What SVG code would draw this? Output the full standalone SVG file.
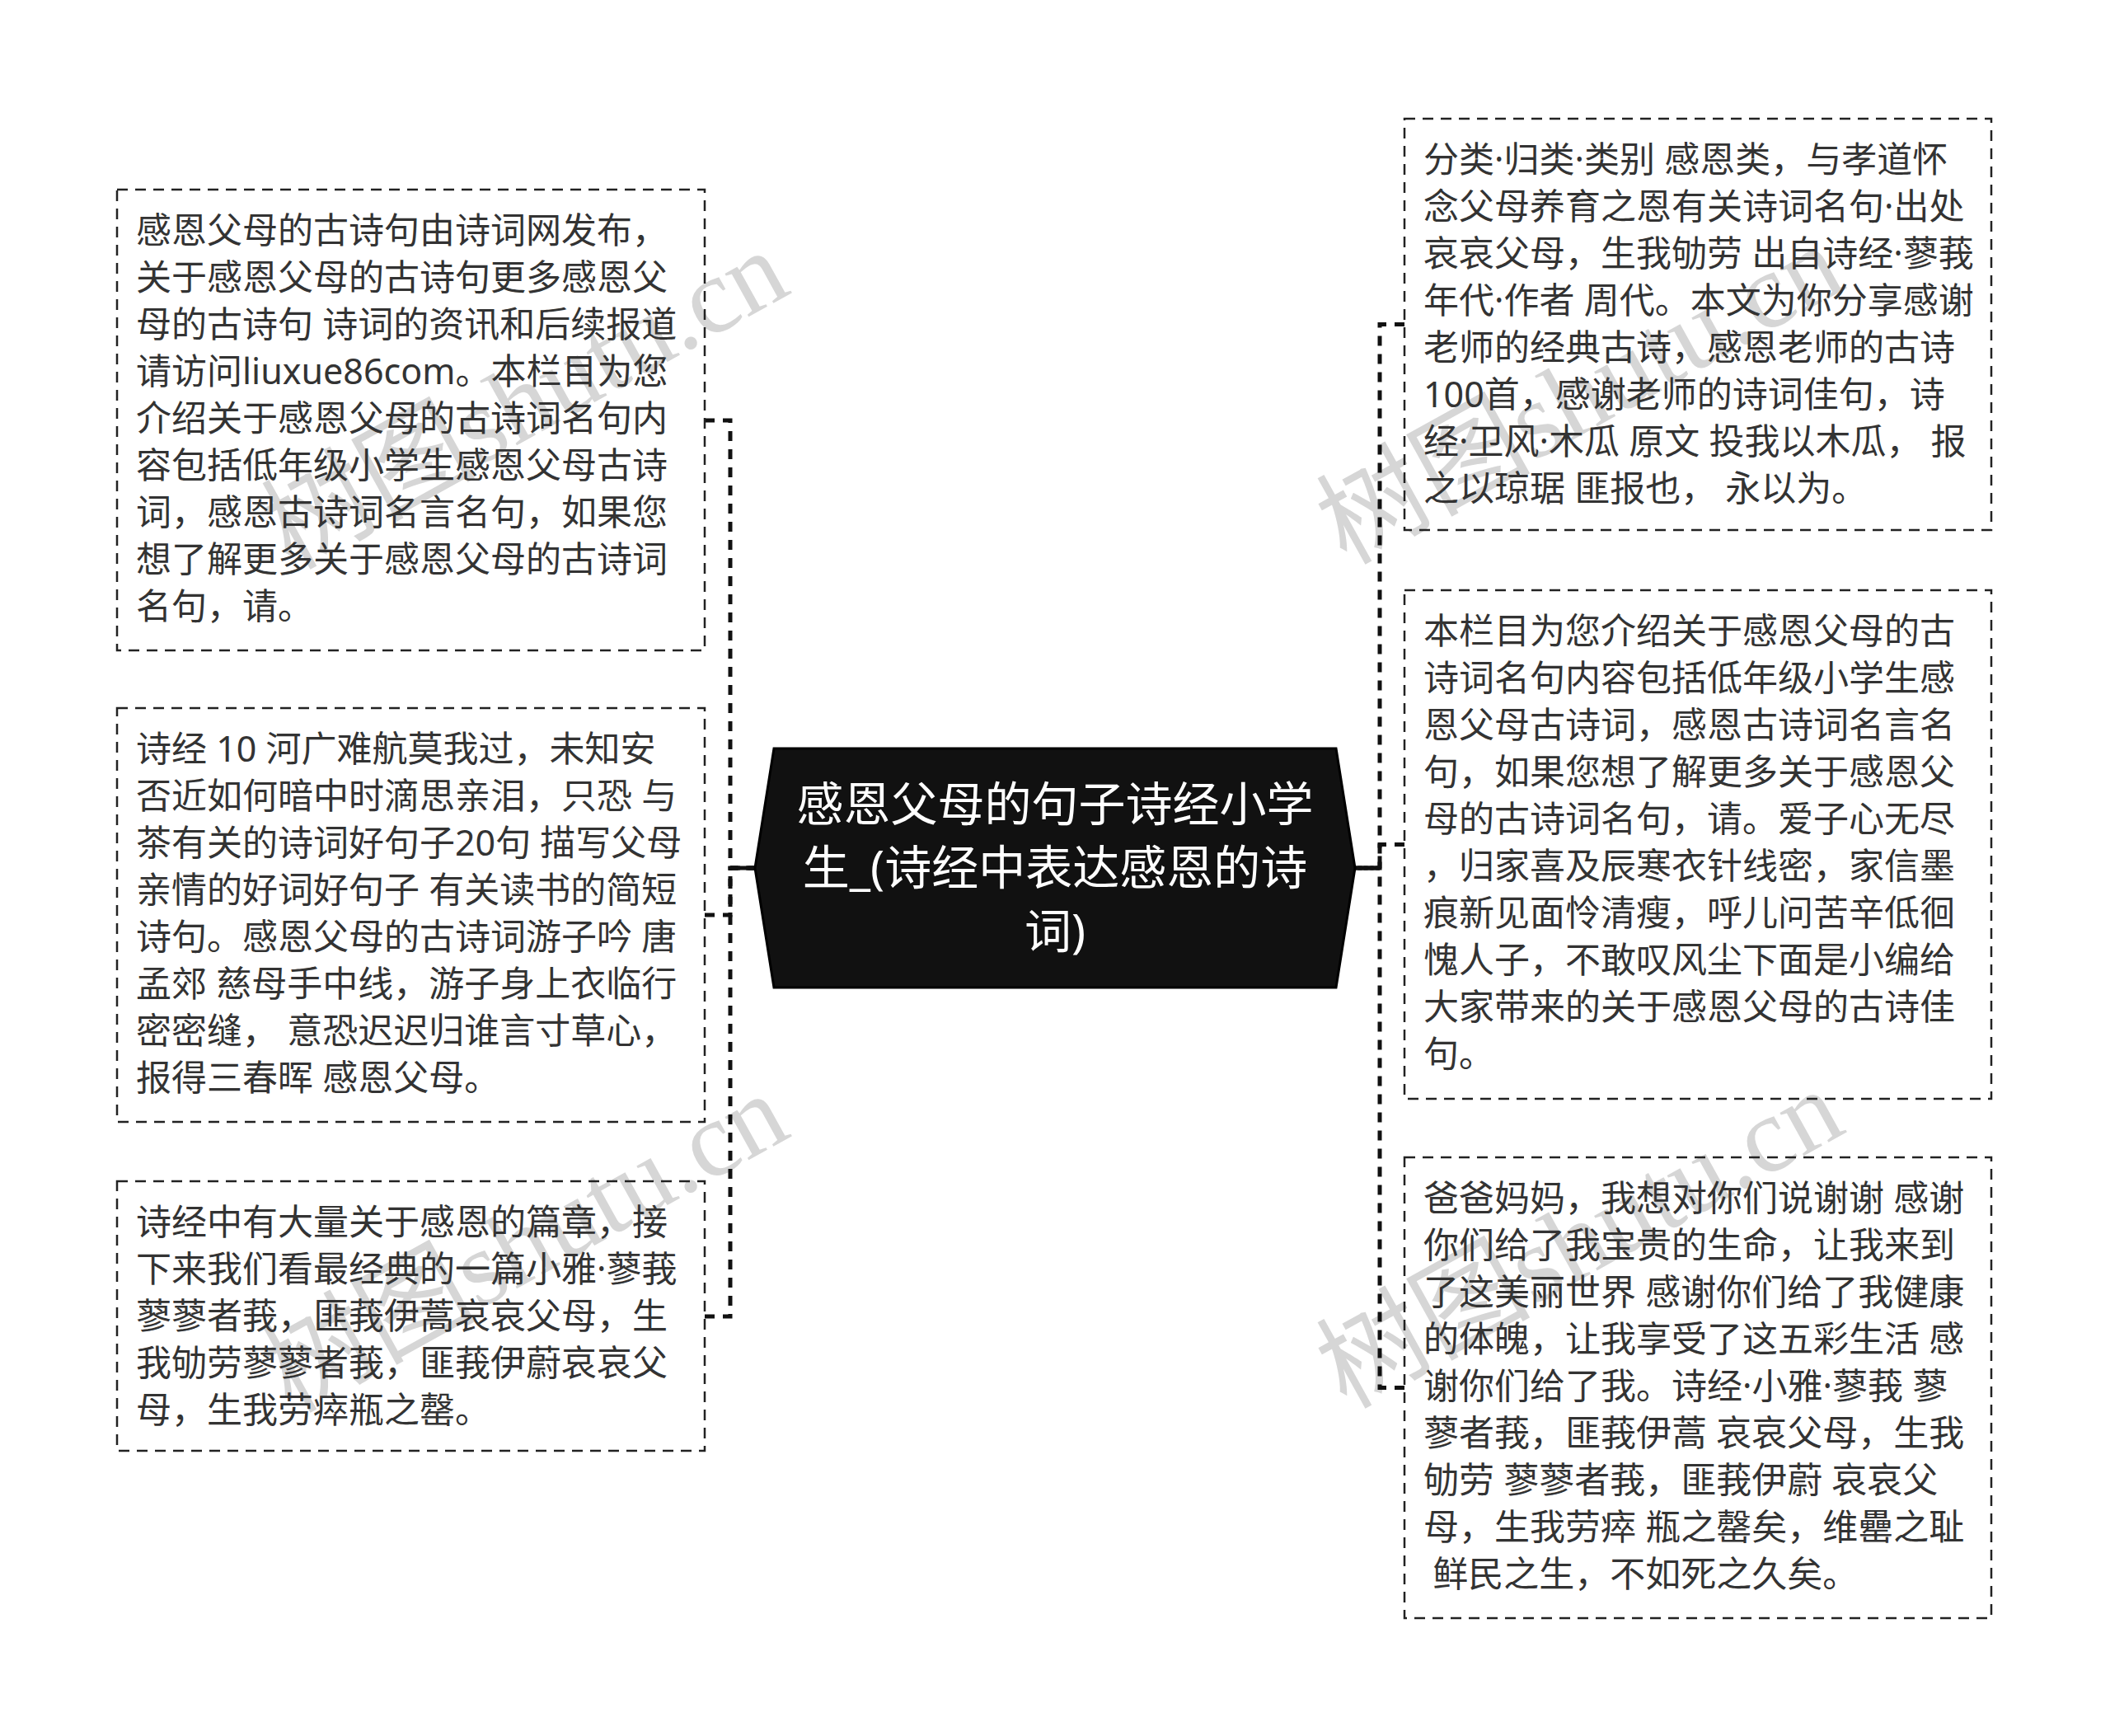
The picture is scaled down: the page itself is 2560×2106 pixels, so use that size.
<svg xmlns="http://www.w3.org/2000/svg" width="2560" height="2106" viewBox="0 0 2560 2106">
<style>
.box{fill:none;stroke:#222;stroke-width:2.5;stroke-dasharray:13 9}
.t{font-family:'Noto Sans','Noto Sans CJK SC',sans-serif;font-size:43px;fill:#333}
.ct{font-family:'Noto Sans','Noto Sans CJK SC',sans-serif;font-size:57px;fill:#fff;text-anchor:middle}
.conn{fill:none;stroke:#111;stroke-width:5;stroke-dasharray:12 10}
.stem{fill:none;stroke:#111;stroke-width:5}
.wm{font-family:'Liberation Serif','Noto Sans CJK SC',serif;font-size:130px;fill:#d6d6d6}
</style>
<rect x="0" y="0" width="2560" height="2106" fill="#fff"/>
<g id="watermarks">
<text class="wm" x="353" y="692" transform="rotate(-29 353 692)">树图shutu.cn</text>
<text class="wm" x="353" y="1715" transform="rotate(-29 353 1715)">树图shutu.cn</text>
<text class="wm" x="1633" y="686" transform="rotate(-29 1633 686)">树图shutu.cn</text>
<text class="wm" x="1633" y="1710" transform="rotate(-29 1633 1710)">树图shutu.cn</text>
</g>
<g id="connectors">
<path class="conn" d="M855,510 H886 V1053 H916"/>
<path class="conn" d="M855,1110 H886 V1053 H916"/>
<path class="conn" d="M855,1597 H886 V1053 H916"/>
<path class="stem" d="M886,1053 H916"/>
<path class="conn" d="M1704,393.5 H1674 V1053 H1644"/>
<path class="conn" d="M1704,1024.5 H1674 V1053 H1644"/>
<path class="conn" d="M1704,1683.5 H1674 V1053 H1644"/>
<path class="stem" d="M1674,1053 H1644"/>
</g>
<g id="center">
<polygon points="939,908 1621,908 1644,1053 1621,1198 939,1198 916,1053" fill="#111" stroke="#000" stroke-width="3"/>
<text class="ct"><tspan x="1280" y="996">感恩父母的句子诗经小学</tspan><tspan x="1280" y="1073">生_(诗经中表达感恩的诗</tspan><tspan x="1280" y="1150">词)</tspan></text>
</g>
<g id="node-l1">
<rect class="box" x="142" y="230" width="713" height="559"/>
<text class="t"><tspan x="165" y="295">感恩父母的古诗句由诗词网发布，</tspan><tspan x="165" y="352">关于感恩父母的古诗句更多感恩父</tspan><tspan x="165" y="409">母的古诗句 诗词的资讯和后续报道</tspan><tspan x="165" y="466">请访问liuxue86com。本栏目为您</tspan><tspan x="165" y="523">介绍关于感恩父母的古诗词名句内</tspan><tspan x="165" y="580">容包括低年级小学生感恩父母古诗</tspan><tspan x="165" y="637">词，感恩古诗词名言名句，如果您</tspan><tspan x="165" y="694">想了解更多关于感恩父母的古诗词</tspan><tspan x="165" y="751">名句，请。</tspan></text>
</g>
<g id="node-l2">
<rect class="box" x="142" y="859" width="713" height="502"/>
<text class="t"><tspan x="165" y="924">诗经 10 河广难航莫我过，未知安</tspan><tspan x="165" y="981">否近如何暗中时滴思亲泪，只恐 与</tspan><tspan x="165" y="1038">茶有关的诗词好句子20句 描写父母</tspan><tspan x="165" y="1095">亲情的好词好句子 有关读书的简短</tspan><tspan x="165" y="1152">诗句。感恩父母的古诗词游子吟 唐</tspan><tspan x="165" y="1209">孟郊 慈母手中线，游子身上衣临行</tspan><tspan x="165" y="1266">密密缝， 意恐迟迟归谁言寸草心，</tspan><tspan x="165" y="1323">报得三春晖 感恩父母。</tspan></text>
</g>
<g id="node-l3">
<rect class="box" x="142" y="1433" width="713" height="327"/>
<text class="t"><tspan x="165" y="1498">诗经中有大量关于感恩的篇章，接</tspan><tspan x="165" y="1555">下来我们看最经典的一篇小雅·蓼莪</tspan><tspan x="165" y="1612">蓼蓼者莪，匪莪伊蒿哀哀父母，生</tspan><tspan x="165" y="1669">我劬劳蓼蓼者莪，匪莪伊蔚哀哀父</tspan><tspan x="165" y="1726">母，生我劳瘁瓶之罄。</tspan></text>
</g>
<g id="node-r1">
<rect class="box" x="1704" y="144" width="712" height="499"/>
<text class="t"><tspan x="1727" y="209">分类·归类·类别 感恩类，与孝道怀</tspan><tspan x="1727" y="266">念父母养育之恩有关诗词名句·出处</tspan><tspan x="1727" y="323">哀哀父母，生我劬劳 出自诗经·蓼莪</tspan><tspan x="1727" y="380">年代·作者 周代。本文为你分享感谢</tspan><tspan x="1727" y="437">老师的经典古诗，感恩老师的古诗</tspan><tspan x="1727" y="494">100首，感谢老师的诗词佳句，诗</tspan><tspan x="1727" y="551">经·卫风·木瓜 原文 投我以木瓜， 报</tspan><tspan x="1727" y="608">之以琼琚 匪报也， 永以为。</tspan></text>
</g>
<g id="node-r2">
<rect class="box" x="1704" y="716" width="712" height="617"/>
<text class="t"><tspan x="1727" y="781">本栏目为您介绍关于感恩父母的古</tspan><tspan x="1727" y="838">诗词名句内容包括低年级小学生感</tspan><tspan x="1727" y="895">恩父母古诗词，感恩古诗词名言名</tspan><tspan x="1727" y="952">句，如果您想了解更多关于感恩父</tspan><tspan x="1727" y="1009">母的古诗词名句，请。爱子心无尽</tspan><tspan x="1727" y="1066">，归家喜及辰寒衣针线密，家信墨</tspan><tspan x="1727" y="1123">痕新见面怜清瘦，呼儿问苦辛低徊</tspan><tspan x="1727" y="1180">愧人子，不敢叹风尘下面是小编给</tspan><tspan x="1727" y="1237">大家带来的关于感恩父母的古诗佳</tspan><tspan x="1727" y="1294">句。</tspan></text>
</g>
<g id="node-r3">
<rect class="box" x="1704" y="1404" width="712" height="559"/>
<text class="t" xml:space="preserve"><tspan x="1727" y="1469">爸爸妈妈，我想对你们说谢谢 感谢</tspan><tspan x="1727" y="1526">你们给了我宝贵的生命，让我来到</tspan><tspan x="1727" y="1583">了这美丽世界 感谢你们给了我健康</tspan><tspan x="1727" y="1640">的体魄，让我享受了这五彩生活 感</tspan><tspan x="1727" y="1697">谢你们给了我。诗经·小雅·蓼莪 蓼</tspan><tspan x="1727" y="1754">蓼者莪，匪莪伊蒿 哀哀父母，生我</tspan><tspan x="1727" y="1811">劬劳 蓼蓼者莪，匪莪伊蔚 哀哀父</tspan><tspan x="1727" y="1868">母，生我劳瘁 瓶之罄矣，维罍之耻</tspan><tspan x="1727" y="1925"> 鲜民之生，不如死之久矣。</tspan></text>
</g>
</svg>
